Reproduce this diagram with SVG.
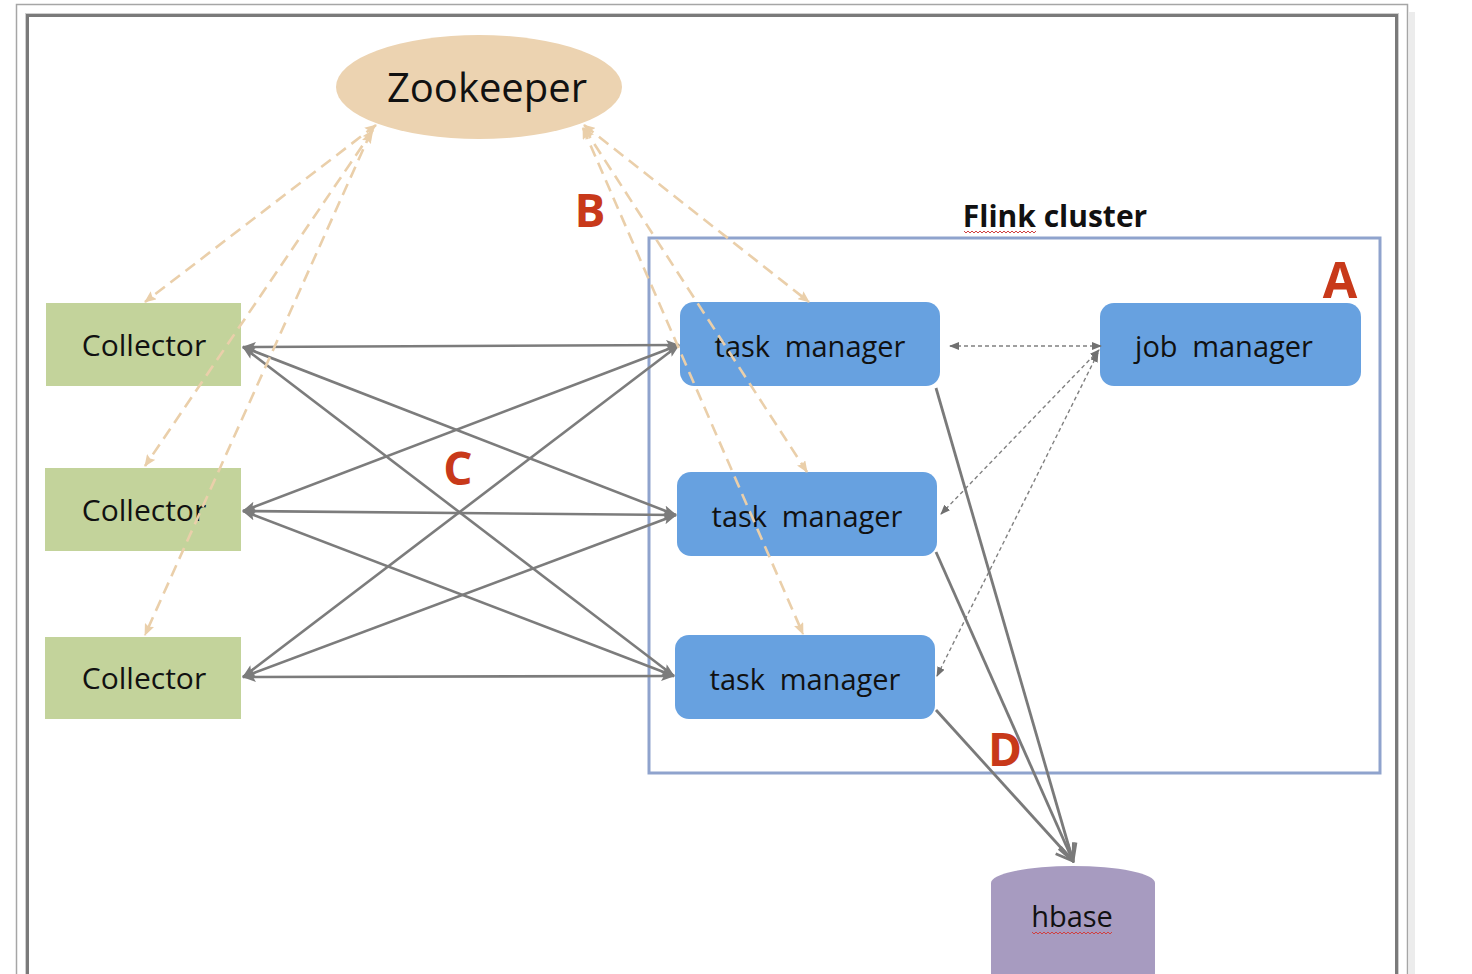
<svg xmlns="http://www.w3.org/2000/svg" width="1472" height="974" viewBox="0 0 1472 974">
<style>
.lbl{font-family:"Open Sans","Noto Sans","DejaVu Sans",sans-serif;fill:#111;text-anchor:middle}
.col{fill:#c3d39b}
.tm{fill:#67a1e0}
.big{font-family:"Open Sans","Noto Sans",sans-serif;font-weight:bold;fill:#c8391a;text-anchor:middle}
.solid{stroke:#7c7c7c;stroke-width:2.6;fill:none;marker-start:url(#ag);marker-end:url(#ag)}
.jm{stroke:#808080;stroke-width:1.4;fill:none;stroke-dasharray:4 3;marker-start:url(#ad);marker-end:url(#ad)}
.zk{stroke:#eacfaa;stroke-width:2.6;fill:none;stroke-dasharray:12 7;marker-start:url(#at);marker-end:url(#at)}
.hb{stroke:#7a7a7a;stroke-width:2.8;fill:none;marker-end:url(#ao)}
.sq{stroke:#d04040;stroke-width:1;fill:none}
</style>
<defs>
<marker id="ag" viewBox="0 0 14 10" refX="13" refY="5" markerWidth="14" markerHeight="10" markerUnits="userSpaceOnUse" orient="auto-start-reverse"><path d="M0,0 L14,5 L0,10 L3,5 z" fill="#7c7c7c"/></marker>
<marker id="ad" viewBox="0 0 10 8" refX="9" refY="4" markerWidth="10" markerHeight="8" markerUnits="userSpaceOnUse" orient="auto-start-reverse"><path d="M0,0 L10,4 L0,8 z" fill="#707070"/></marker>
<marker id="at" viewBox="0 0 12 10" refX="11" refY="5" markerWidth="12" markerHeight="10" markerUnits="userSpaceOnUse" orient="auto-start-reverse"><path d="M0,0 L12,5 L0,10 L2,5 z" fill="#eacfaa"/></marker>
<marker id="ao" viewBox="0 0 20 20" refX="18" refY="10" markerWidth="20" markerHeight="20" markerUnits="userSpaceOnUse" orient="auto"><path d="M1,2 L18,10 L1,18" fill="none" stroke="#7a7a7a" stroke-width="2.8"/></marker>
</defs>
<rect width="1472" height="974" fill="#fff"/>
<rect x="1409" y="12" width="6" height="970" fill="#ececec"/>
<rect x="16.5" y="4.5" width="1391" height="1000" fill="none" stroke="#a6a6a6" stroke-width="1.5"/>
<rect x="25.5" y="13.5" width="1373" height="1000" fill="none" stroke="#cfcfcf" stroke-width="1"/>
<rect x="27.5" y="15.5" width="1369" height="1000" fill="none" stroke="#7a7a7a" stroke-width="3"/>

<g id="flink-cluster">
<rect x="649" y="238" width="731" height="535" fill="none" stroke="#8fa3cd" stroke-width="3"/>
<text x="1055" y="227" class="lbl" font-size="30" font-weight="bold">Flink cluster</text>
<path class="sq" d="M964,231 l2,2 l2,-2 l2,2 l2,-2 l2,2 l2,-2 l2,2 l2,-2 l2,2 l2,-2 l2,2 l2,-2 l2,2 l2,-2 l2,2 l2,-2 l2,2 l2,-2 l2,2 l2,-2 l2,2 l2,-2 l2,2 l2,-2 l2,2 l2,-2 l2,2 l2,-2 l2,2 l2,-2 l2,2 l2,-2 l2,2 l2,-2 l2,2 l2,-2"/>
</g>

<g id="zookeeper">
<ellipse cx="479" cy="87" rx="143" ry="52" fill="#ecd3b1"/>
<text x="487" y="102" class="lbl" font-size="40">Zookeeper</text>
</g>

<g id="collector-1"><rect x="46" y="303" width="195" height="83" class="col"/><text x="144" y="356" class="lbl" font-size="30">Collector</text></g>
<g id="collector-2"><rect x="45" y="468" width="196" height="83" class="col"/><text x="144" y="521" class="lbl" font-size="30">Collector</text></g>
<g id="collector-3"><rect x="45" y="637" width="196" height="82" class="col"/><text x="144" y="689" class="lbl" font-size="30">Collector</text></g>

<g id="task-manager-1"><rect x="680" y="302" width="260" height="84" rx="14" class="tm"/><text x="810" y="357" class="lbl" font-size="29" word-spacing="7">task manager</text></g>
<g id="task-manager-2"><rect x="677" y="472" width="260" height="84" rx="14" class="tm"/><text x="807" y="527" class="lbl" font-size="29" word-spacing="7">task manager</text></g>
<g id="task-manager-3"><rect x="675" y="635" width="260" height="84" rx="14" class="tm"/><text x="805" y="690" class="lbl" font-size="29" word-spacing="7">task manager</text></g>
<g id="job-manager"><rect x="1100" y="303" width="261" height="83" rx="14" class="tm"/><text x="1224" y="357" class="lbl" font-size="29" word-spacing="7">job manager</text></g>

<g id="hbase">
<path d="M991,883 A82,17 0 0 1 1155,883 L1155,990 L991,990 Z" fill="#a79bc0"/>
<text x="1072" y="927" class="lbl" font-size="29">hbase</text>
<path class="sq" d="M1032,932 l2,2 l2,-2 l2,2 l2,-2 l2,2 l2,-2 l2,2 l2,-2 l2,2 l2,-2 l2,2 l2,-2 l2,2 l2,-2 l2,2 l2,-2 l2,2 l2,-2 l2,2 l2,-2 l2,2 l2,-2 l2,2 l2,-2 l2,2 l2,-2 l2,2 l2,-2 l2,2 l2,-2 l2,2 l2,-2 l2,2 l2,-2 l2,2 l2,-2 l2,2 l2,-2 l2,2 l2,-2"/>
</g>

<g id="connectors">
<line class="solid" x1="243" y1="347" x2="679" y2="345"/>
<line class="solid" x1="243" y1="347" x2="676" y2="515"/>
<line class="solid" x1="243" y1="347" x2="674" y2="676"/>
<line class="solid" x1="243" y1="511" x2="679" y2="345"/>
<line class="solid" x1="243" y1="511" x2="676" y2="515"/>
<line class="solid" x1="243" y1="511" x2="674" y2="676"/>
<line class="solid" x1="243" y1="677" x2="679" y2="345"/>
<line class="solid" x1="243" y1="677" x2="676" y2="515"/>
<line class="solid" x1="243" y1="677" x2="674" y2="676"/>

<line class="jm" x1="1101" y1="346" x2="950" y2="346"/>
<line class="jm" x1="1099" y1="350" x2="941" y2="514"/>
<line class="jm" x1="1098" y1="353" x2="937" y2="676"/>

<line class="hb" x1="936" y1="388" x2="1073" y2="861"/>
<line class="hb" x1="936" y1="552" x2="1073" y2="861"/>
<line class="hb" x1="936" y1="710" x2="1073" y2="861"/>

<line class="zk" x1="376" y1="125" x2="145" y2="302"/>
<line class="zk" x1="373" y1="130" x2="145" y2="466"/>
<line class="zk" x1="371" y1="132" x2="145" y2="635"/>
<line class="zk" x1="584" y1="125" x2="809" y2="302"/>
<line class="zk" x1="584" y1="128" x2="807" y2="472"/>
<line class="zk" x1="583" y1="128" x2="803" y2="634"/>
</g>

<g id="labels">
<text x="590" y="227" class="big" font-size="46">B</text>
<text x="458" y="485" class="big" font-size="46">C</text>
<text x="1005" y="766" class="big" font-size="46">D</text>
<text x="1340" y="298" class="big" font-size="50">A</text>
</g>
</svg>
